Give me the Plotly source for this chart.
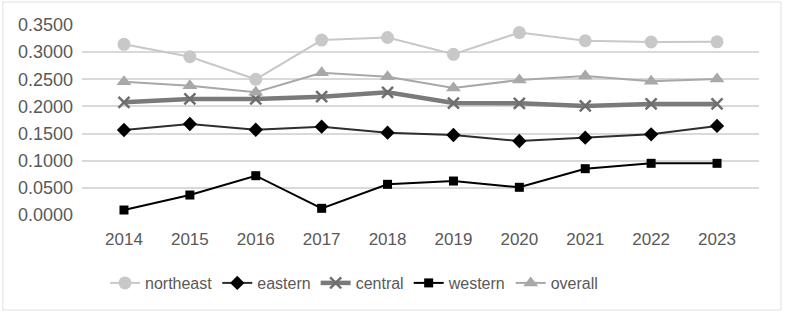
import plotly.graph_objects as go

years = ["2014", "2015", "2016", "2017", "2018", "2019", "2020", "2021", "2022", "2023"]
northeast = [0.3144, 0.2916, 0.2500, 0.3223, 0.3270, 0.2960, 0.3360, 0.3210, 0.3187, 0.3190]
eastern = [0.1566, 0.1676, 0.1570, 0.1627, 0.1516, 0.1474, 0.1363, 0.1424, 0.1486, 0.1640]
central = [0.2075, 0.2137, 0.2137, 0.2180, 0.2260, 0.2063, 0.2057, 0.2008, 0.2045, 0.2045]
western = [0.0092, 0.0368, 0.0724, 0.0123, 0.0565, 0.0626, 0.0510, 0.0853, 0.0952, 0.0952]
overall = [0.2456, 0.2380, 0.2260, 0.2620, 0.2548, 0.2340, 0.2487, 0.2560, 0.2462, 0.2505]
y_ticks = [0.0, 0.05, 0.10, 0.15, 0.20, 0.25, 0.30, 0.35]

fig = go.Figure()
series = [
    ("northeast", northeast, "#c8c8c8", 2, "circle", 13, "#c8c8c8"),
    ("eastern", eastern, "#2e2e2e", 2, "diamond", 11, "#000000"),
    ("central", central, "#7a7a7a", 4.5, "x-thin-open", 11, "#6e6e6e"),
    ("western", western, "#000000", 2, "square", 9, "#000000"),
    ("overall", overall, "#a8a8a8", 2, "triangle-up", 13, "#a8a8a8"),
]
for name, vals, color, w, sym, sz, mcol in series:
    fig.add_trace(go.Scatter(
        x=years, y=vals, name=name, mode="lines+markers",
        line=dict(color=color, width=w),
        marker=dict(symbol=sym, size=sz, color=mcol,
                    line=dict(color=mcol, width=2.5 if sym.startswith("x") else 0)),
    ))

fig.update_layout(
    width=785, height=315,
    margin=dict(l=82, r=26, t=25, b=100, autoexpand=False),
    paper_bgcolor="white", plot_bgcolor="white",
    font=dict(family="Liberation Sans, Arial, sans-serif", size=17, color="#595959"),
    showlegend=True,
    legend=dict(orientation="h", x=354 / 785, xanchor="center", xref="container",
                y=1 - 283 / 315, yanchor="middle", yref="container",
                font=dict(size=16, color="#595959"), tracegroupgap=0),
    shapes=[dict(type="rect", xref="paper", yref="paper", x0=-0.117, x1=1.0325, y0=-0.5, y1=1.121,
                 line=dict(color="#e0e0e0", width=1))],
)
fig.update_xaxes(type="category", showgrid=False, zeroline=False, showline=False,
                 ticks="", ticklabelstandoff=12, tickfont=dict(size=17, color="#595959"))
fig.update_yaxes(range=[0, 0.35], tickvals=y_ticks, tickformat=".4f",
                 showgrid=True, gridcolor="#d9d9d9", gridwidth=1.5, zeroline=False,
                 showline=False, ticks="", ticklabelstandoff=8,
                 tickfont=dict(size=18, color="#595959"))

fig.write_html("out.html")
